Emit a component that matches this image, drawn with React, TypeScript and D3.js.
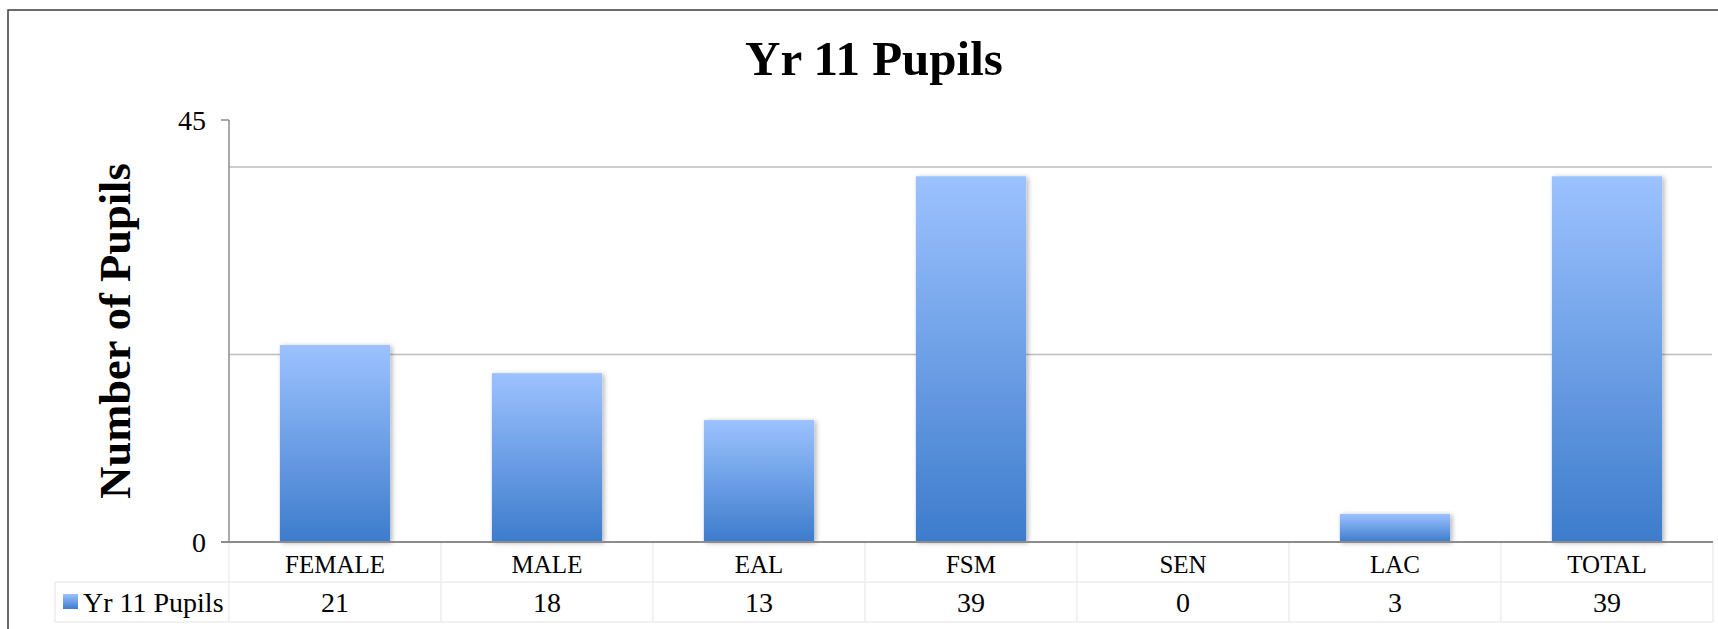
import { useEffect } from "react";
import * as d3 from "d3";

// chart data
const categories = ["FEMALE", "MALE", "EAL", "FSM", "SEN", "LAC", "TOTAL"];
const pupils = [21, 18, 13, 39, 0, 3, 39];
const seriesName = "Yr 11 Pupils";
const gridValues = [20, 40];
const tickLabels = [0, 45];

const width = 1718;
const height = 629;
const serif = "'Liberation Serif', 'DejaVu Serif', serif";

const x = d3.scaleBand<string>().domain(categories).range([229, 1713]).padding(0);
const y = d3.scaleLinear().domain([0, 45]).range([542, 120]);

const barWidth = x.bandwidth() * 0.52;
const tableTop = 542;
const rowSplit = 582;
const tableBottom = 622;
const legendLeft = 55;

const App = () => {
  useEffect(() => {
    document.body.style.margin = "0";
  }, []);

  return (
    <svg width={width} height={height} style={{ display: "block", background: "#fff" }}>
      <defs>
        <linearGradient id="barFill" x1="0" y1="0" x2="0" y2="1">
          <stop offset="0%" stopColor="#9cc2ff" />
          <stop offset="100%" stopColor="#3d7ccc" />
        </linearGradient>
        <linearGradient id="legendFill" x1="0" y1="0" x2="0" y2="1">
          <stop offset="0%" stopColor="#9cc2ff" />
          <stop offset="100%" stopColor="#3d7ccc" />
        </linearGradient>
        <filter id="shadow" x="-10%" y="-10%" width="130%" height="130%">
          <feDropShadow dx="2" dy="1" stdDeviation="2.5" floodColor="#000" floodOpacity="0.3" />
        </filter>
      </defs>

      {/* outer frame */}
      <rect x={8} y={10} width={1800} height={700} fill="none" stroke="#3a3a3a" strokeWidth={1.5} />

      {/* title */}
      <text x={874} y={75} textAnchor="middle" fontFamily={serif} fontWeight="bold" fontSize={49}>
        Yr 11 Pupils
      </text>

      {/* y axis title */}
      <text
        transform={`translate(130,${(y(0) + y(45)) / 2}) rotate(-90)`}
        textAnchor="middle"
        fontFamily={serif}
        fontWeight="bold"
        fontSize={44.5}
      >
        Number of Pupils
      </text>

      {/* gridlines */}
      {gridValues.map((v) => (
        <line key={v} x1={229} x2={1712} y1={y(v)} y2={y(v)} stroke="#bdbdbd" strokeWidth={1.5} />
      ))}

      {/* table cell lines */}
      {categories.map((c) => (
        <line key={c} x1={x(c)!} x2={x(c)!} y1={tableTop} y2={tableBottom} stroke="#ececec" strokeWidth={1.5} />
      ))}
      <line x1={1713} x2={1713} y1={tableTop} y2={tableBottom} stroke="#ececec" strokeWidth={1.5} />
      <line x1={legendLeft} x2={legendLeft} y1={rowSplit} y2={tableBottom} stroke="#ececec" strokeWidth={1.5} />
      <line x1={legendLeft} x2={1713} y1={rowSplit} y2={rowSplit} stroke="#ececec" strokeWidth={1.5} />
      <line x1={legendLeft} x2={1713} y1={tableBottom} y2={tableBottom} stroke="#ececec" strokeWidth={1.5} />

      {/* bars */}
      {categories.map((c, i) =>
        pupils[i] > 0 ? (
          <rect
            key={c}
            x={x(c)! + (x.bandwidth() - barWidth) / 2}
            y={y(pupils[i])}
            width={barWidth}
            height={y(0) - y(pupils[i])}
            fill="url(#barFill)"
            filter="url(#shadow)"
          />
        ) : null
      )}

      {/* y axis */}
      <line x1={229} x2={229} y1={y(45)} y2={y(0)} stroke="#8c8c8c" strokeWidth={1.5} />
      {tickLabels.map((t) => (
        <g key={t}>
          <line x1={221} x2={229} y1={y(t)} y2={y(t)} stroke="#8c8c8c" strokeWidth={1.5} />
          <text x={206} y={y(t) + 10} textAnchor="end" fontFamily={serif} fontSize={28}>
            {t}
          </text>
        </g>
      ))}
      <line x1={221} x2={1713} y1={y(0)} y2={y(0)} stroke="#8c8c8c" strokeWidth={2} />

      {/* category labels */}
      {categories.map((c) => (
        <text key={c} x={x(c)! + x.bandwidth() / 2} y={573} textAnchor="middle" fontFamily={serif} fontSize={25}>
          {c}
        </text>
      ))}

      {/* data row */}
      <rect x={63} y={594} width={15} height={15} fill="url(#legendFill)" />
      <text x={83} y={612} fontFamily={serif} fontSize={28}>
        {seriesName}
      </text>
      {categories.map((c, i) => (
        <text key={c} x={x(c)! + x.bandwidth() / 2} y={612} textAnchor="middle" fontFamily={serif} fontSize={28}>
          {pupils[i]}
        </text>
      ))}
    </svg>
  );
};

export default App;
